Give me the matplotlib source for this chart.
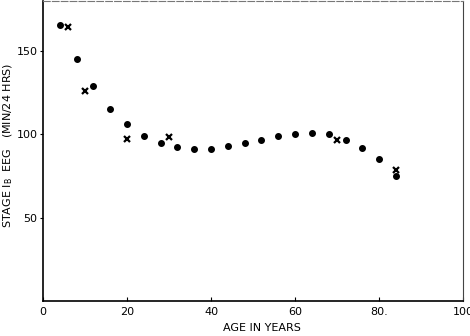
import matplotlib
matplotlib.use("Agg")
import matplotlib.pyplot as plt

dot_age = [4, 8, 12, 16, 20, 24, 28, 32, 36, 40, 44, 48, 52, 56, 60, 64, 68, 72, 76, 80, 84]
dot_val = [165.5, 145.4, 129, 115.3, 106.4, 98.8, 94.8, 92.3, 91.5, 91.5, 93, 94.8, 96.8, 98.8, 100.2, 101, 100.2, 96.8, 92, 85.5, 75]
x_age = [6, 10, 20, 30, 70, 84]
x_val = [164.5, 126, 97.2, 98.4, 96.4, 78.6]
xticks = [0, 20, 40, 60, 80, 100]
xtick_labels = ["0", "20", "40", "60", "80.", "100"]
yticks = [50, 100, 150]

plt.rcParams['font.family'] = ['DejaVu Sans']
fig = plt.figure(figsize=(4.7, 3.36), dpi=100)
ax = fig.add_axes([0.0915, 0.104, 0.894, 0.893])
ax.plot(dot_age, dot_val, 'o', color='black', ms=4, ls='none')
ax.plot(x_age, x_val, 'x', color='black', ms=5, mew=1.6, ls='none')
ax.set_xlim(0, 100)
ax.set_ylim(0, 180)
ax.set_xticks(xticks)
ax.set_xticklabels(xtick_labels, fontsize=8)
ax.set_yticks(yticks)
ax.set_yticklabels([str(v) for v in yticks], fontsize=8)
ax.tick_params(axis='x', direction='in', length=3, pad=4)
ax.tick_params(axis='y', direction='out', length=2, pad=2)
ax.spines['top'].set_color('#777777')
ax.spines['top'].set_linestyle((0, (6, 2)))
ax.spines['right'].set_color('#444444')
for s in ['left', 'bottom']:
    ax.spines[s].set_linewidth(1.2)
ax.set_xlabel("AGE IN YEARS", fontsize=8)
ax.xaxis.set_label_coords(0.52, -0.089)
ax.xaxis.label.set_va('center')
ax.set_ylabel("STAGE I$_\\mathregular{B}$  EEG   (MIN/24 HRS)", fontsize=8)
ax.yaxis.set_label_coords(-0.083, 0.52)
ax.yaxis.label.set_va('center')
fig.savefig("out.png", dpi=100)
